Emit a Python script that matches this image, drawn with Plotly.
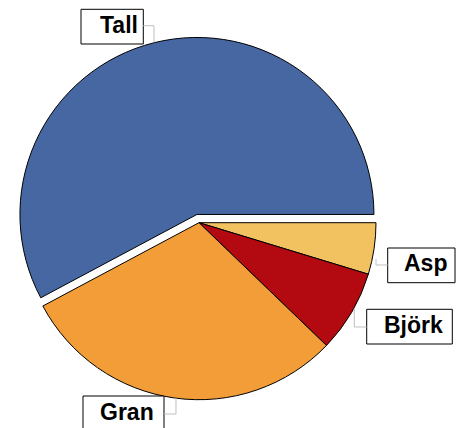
import plotly.graph_objects as go

labels = ["Tall", "Gran", "Björk", "Asp"]
values = [57.8, 30.0, 7.5, 4.7]
colors = ["#4667A2", "#F29D38", "#B20A10", "#F2C260"]
pulls = [0.048, 0, 0, 0]

# the page body has an 8px default margin; lay out in window pixels and convert
OFF = 8
W, H = 457, 420


def px(x):
    return (x - OFF) / W


def py(y):
    return 1 - (y - OFF) / H


# pie geometry in window pixels
CX, CY, R = 199, 222.7, 177
half = R * (1 + max(pulls))

fig = go.Figure()
# drawn clockwise from 3 o'clock in reverse order => Tall runs counterclockwise from 3 o'clock
fig.add_trace(go.Pie(
    labels=labels[::-1], values=values[::-1], sort=False,
    direction="clockwise", rotation=90,
    pull=pulls[::-1], textinfo="none", hoverinfo="label+percent",
    marker=dict(colors=colors[::-1], line=dict(color="#000000", width=1)),
    domain=dict(x=[px(CX - half), px(CX + half)], y=[py(CY + half), py(CY - half)]),
    showlegend=False,
))

# label boxes: (text, left, top, right, bottom, text right edge) in window px
boxes = [
    ("Tall", 81, 9.3, 143.3, 44, 137.7),
    ("Gran", 83, 396, 164, 431, 154),
    ("Björk", 366.7, 309.3, 452.3, 344, 442.7),
    ("Asp", 387.7, 248, 455, 282.7, 447.3),
]
for txt, x0, y0, x1, y1, tr in boxes:
    fig.add_shape(type="rect", xref="paper", yref="paper",
                  x0=px(x0), x1=px(x1), y0=py(y0), y1=py(y1),
                  line=dict(color="#000000", width=1), fillcolor="#FFFFFF")
    fig.add_annotation(
        text=txt, xref="paper", yref="paper",
        x=px(tr), y=py((y0 + y1) / 2 - 2), xanchor="right", yanchor="middle",
        showarrow=False, borderpad=0, borderwidth=0,
        font=dict(family="Liberation Sans, Arial, sans-serif", size=23,
                  color="#000000", weight="bold"),
    )

# leader lines (window px)
leaders = [
    [(143.3, 25.7), (154, 25.7), (154, 42.5)],
    [(164, 414), (176, 414), (176, 398)],
    [(376, 259), (376, 265), (387.7, 265)],
    [(354.3, 308), (354.3, 327), (366.7, 327)],
]
for pts in leaders:
    path = "M " + " L ".join(f"{px(x):.5f},{py(y):.5f}" for x, y in pts)
    fig.add_shape(type="path", path=path, xref="paper", yref="paper",
                  line=dict(color="#BFBFBF", width=1))

fig.update_layout(
    width=W, height=H,
    margin=dict(l=0, r=0, t=0, b=0),
    paper_bgcolor="#FFFFFF", plot_bgcolor="#FFFFFF",
)

fig.write_html("out.html")
